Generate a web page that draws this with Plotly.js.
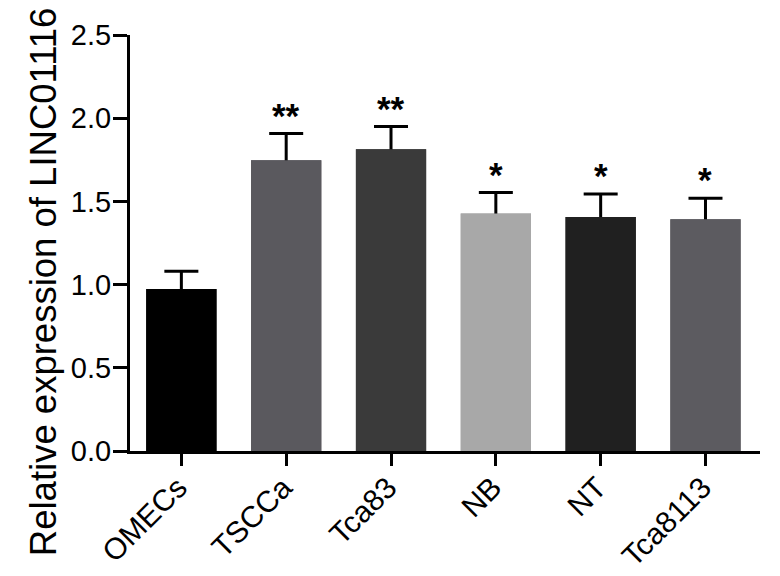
<!DOCTYPE html>
<html>
<head>
<meta charset="utf-8">
<script src="https://cdn.plot.ly/plotly-3.0.1.min.js"></script>
<style>html,body{margin:0;padding:0;background:#fff;}#chart{width:780px;height:576px;}</style>
</head>
<body>
<div id="chart"></div>
<script>
const categories = ["OMECs", "TSCCa", "Tca83", "NB", "NT", "Tca8113"];
const means = [0.974, 1.747, 1.813, 1.428, 1.407, 1.392];
const errUp = [0.106, 0.161, 0.137, 0.125, 0.138, 0.127];
const barColors = ["#000000", "#5a595e", "#3a3a3a", "#a8a8a8", "#202020", "#5c5b60"];
const significance = ["", "**", "**", "*", "*", "*"];
const yTicks = [0, 0.5, 1.0, 1.5, 2.0, 2.5];
const yTickLabels = ["0.0", "0.5", "1.0", "1.5", "2.0", "2.5"];
const yTitle = "Relative expression of LINC01116";

// error bars (symmetric); lower half is hidden by the bars drawn on top
const errTrace = {
  type: "bar",
  x: categories,
  y: means,
  width: 0.67,
  marker: {color: barColors, line: {width: 0}},
  error_y: {type: "data", symmetric: true, array: errUp,
            color: "#000", thickness: 3, width: 17},
  hoverinfo: "none"
};
const barTrace = {
  type: "bar",
  x: categories,
  y: means,
  width: 0.67,
  marker: {color: barColors, line: {width: 0}},
  hoverinfo: "none"
};

const FAM = "Arial, Liberation Sans, sans-serif";
const annotations = categories.map((c, i) => ({
  x: c, y: means[i] + errUp[i], xref: "x", yref: "y",
  text: significance[i], showarrow: false,
  yanchor: "bottom", yshift: -3,
  font: {family: FAM, size: 35, color: "#000", weight: "bold"}
})).filter(a => a.text);

annotations.push({
  xref: "paper", yref: "paper", x: -0.138, y: 0.406,
  xanchor: "center", yanchor: "middle", textangle: -90,
  text: yTitle, showarrow: false,
  font: {family: FAM, size: 36.5, color: "#000"}
});

const tickFont = {family: FAM, size: 29, color: "#000"};
const xTickFont = {family: FAM, size: 30, color: "#000"};

const layout = {
  width: 780, height: 576,
  margin: {l: 130, r: 20, t: 35, b: 125},
  paper_bgcolor: "#fff", plot_bgcolor: "#fff",
  showlegend: false,
  font: tickFont,
  barmode: "overlay",
  xaxis: {
    type: "category", range: [-0.49, 5.52],
    showline: true, linecolor: "#000", linewidth: 3,
    ticks: "outside", ticklen: 12, tickwidth: 3, tickcolor: "#000",
    tickangle: -45, tickfont: xTickFont, ticklabelstandoff: -8, ticklabelshift: -3,
    showgrid: false, zeroline: false, fixedrange: true
  },
  yaxis: {
    range: [0, 2.5], tickvals: yTicks, ticktext: yTickLabels,
    showline: true, linecolor: "#000", linewidth: 3,
    ticks: "outside", ticklen: 14, tickwidth: 3, tickcolor: "#000",
    tickfont: tickFont, ticklabelstandoff: -4,
    showgrid: false, zeroline: false, fixedrange: true
  },
  annotations: annotations
};

Plotly.newPlot("chart", [errTrace, barTrace], layout, {displayModeBar: false, staticPlot: true});
</script>
</body>
</html>
